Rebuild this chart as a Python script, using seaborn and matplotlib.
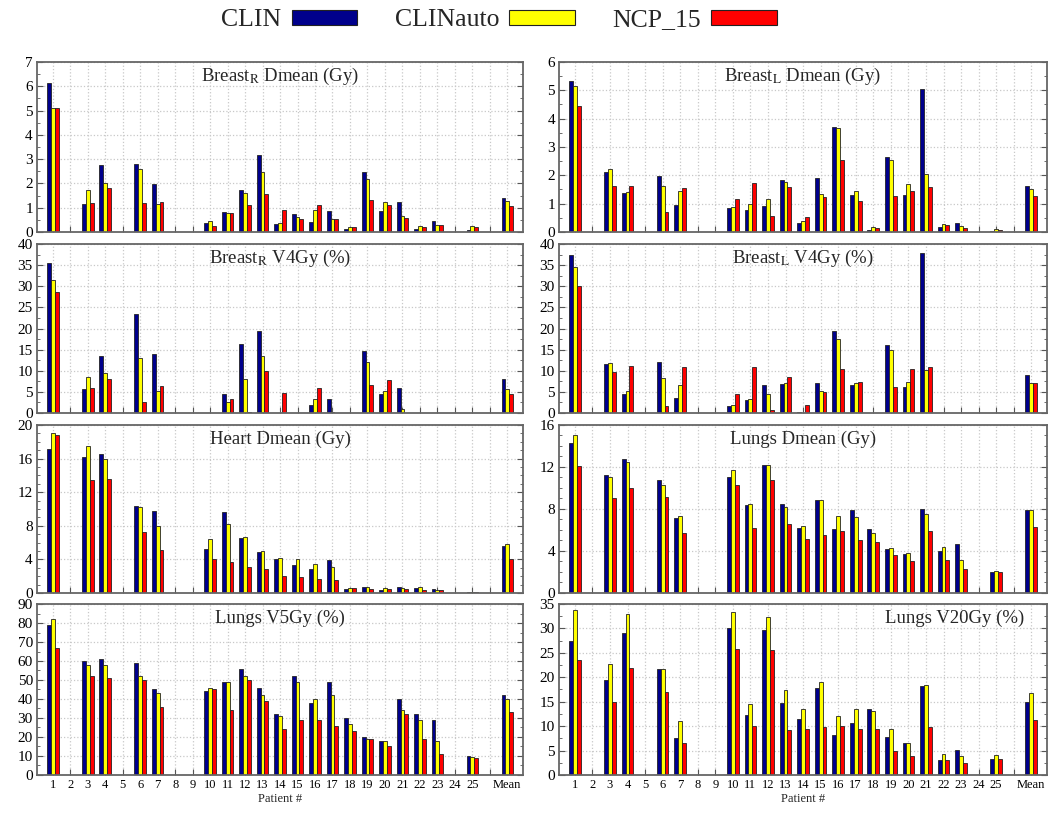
import numpy as np
import pandas as pd
import seaborn as sns
import matplotlib
matplotlib.use('Agg')
import matplotlib.pyplot as plt
from matplotlib.patches import Patch
from matplotlib.ticker import MultipleLocator, AutoMinorLocator

nan = np.nan

# patients 1..25 + Mean
patients = [str(i) for i in range(1, 26)] + ['Mean']
order = patients[:25] + [' '] + ['Mean']
methods = ['CLIN', 'CLINauto', 'NCP_15']
colors = ['#00008c', '#ffff00', '#ff0000']

breastR_dmean_clin = [6.15, nan, 1.14, 2.74, nan, 2.81, 1.97, nan, nan, 0.38, 0.84, 1.73, 3.16, 0.33, 0.75, 0.41, 0.85, 0.11, 2.47, 0.85, 1.23, 0.11, 0.44, nan, 0.08, 1.42]
breastR_dmean_auto = [5.10, nan, 1.73, 2.01, nan, 2.58, 1.16, nan, nan, 0.45, 0.78, 1.62, 2.49, 0.38, 0.60, 0.89, 0.52, 0.22, 2.19, 1.23, 0.64, 0.23, 0.29, nan, 0.23, 1.27]
breastR_dmean_ncp = [5.10, nan, 1.19, 1.81, nan, 1.18, 1.25, nan, nan, 0.26, 0.78, 1.12, 1.58, 0.92, 0.53, 1.11, 0.55, 0.22, 1.32, 1.12, 0.58, 0.22, 0.27, nan, 0.19, 1.07]

breastL_dmean_clin = [5.34, nan, 2.13, 1.37, nan, 1.98, 0.94, nan, nan, 0.85, 0.76, 0.92, 1.83, 0.32, 1.91, 3.70, 1.31, 0.07, 2.66, 1.29, 5.03, 0.18, 0.30, nan, 0.02, 1.63]
breastL_dmean_auto = [5.14, nan, 2.23, 1.42, nan, 1.62, 1.44, nan, nan, 0.89, 0.98, 1.16, 1.75, 0.39, 1.33, 3.66, 1.45, 0.17, 2.55, 1.70, 2.04, 0.28, 0.20, nan, 0.09, 1.53]
breastL_dmean_ncp = [4.43, nan, 1.63, 1.63, nan, 0.70, 1.56, nan, nan, 1.16, 1.72, 0.57, 1.58, 0.52, 1.24, 2.54, 1.09, 0.14, 1.26, 1.46, 1.59, 0.26, 0.15, nan, 0.06, 1.27]

breastR_v4_clin = [35.6, nan, 5.7, 13.5, nan, 23.4, 13.9, nan, nan, nan, 4.4, 16.3, 19.5, 0.1, nan, 1.8, 3.3, nan, 14.6, 4.4, 5.9, nan, nan, nan, nan, 8.1]
breastR_v4_auto = [31.5, nan, 8.5, 9.5, nan, 13.1, 5.2, nan, nan, nan, 2.5, 8.0, 13.5, 0.1, nan, 3.3, 0.15, nan, 12.1, 5.1, 1.0, nan, nan, nan, nan, 5.7]
breastR_v4_ncp = [28.7, nan, 5.9, 8.1, nan, 2.7, 6.3, nan, nan, nan, 3.2, 0.3, 9.9, 4.8, nan, 5.9, 0.1, nan, 6.6, 7.8, nan, nan, nan, nan, nan, 4.5]

breastL_v4_clin = [37.4, nan, 11.5, 4.6, nan, 12.1, 3.6, nan, nan, 1.6, 3.0, 6.6, 6.8, 0.2, 7.0, 19.4, 6.6, nan, 16.2, 6.2, 37.9, nan, nan, nan, nan, 9.1]
breastL_v4_auto = [34.5, nan, 11.8, 5.1, nan, 8.3, 6.7, nan, nan, 1.8, 3.4, 4.6, 7.0, 0.1, 5.3, 17.6, 7.0, nan, 15.0, 7.4, 10.1, nan, nan, nan, nan, 7.2]
breastL_v4_ncp = [30.0, nan, 9.8, 11.1, nan, 1.7, 10.8, nan, nan, 4.6, 10.9, 0.6, 8.5, 1.8, 4.9, 10.5, 7.4, nan, 6.2, 10.3, 11.0, nan, nan, nan, nan, 7.0]

heart_dmean_clin = [17.1, nan, 16.2, 16.6, nan, 10.4, 9.8, nan, nan, 5.2, 9.6, 6.5, 4.9, 4.0, 3.3, 2.8, 3.9, 0.5, 0.75, 0.4, 0.7, 0.6, 0.5, nan, 0.1, 5.6]
heart_dmean_auto = [19.0, nan, 17.5, 16.0, nan, 10.2, 8.0, nan, nan, 6.4, 8.2, 6.7, 5.0, 4.2, 4.1, 3.4, 3.1, 0.6, 0.7, 0.6, 0.6, 0.7, 0.3, nan, 0.15, 5.8]
heart_dmean_ncp = [18.8, nan, 13.5, 13.6, nan, 7.2, 5.1, nan, nan, 4.1, 3.7, 3.1, 2.9, 2.0, 1.9, 1.7, 1.6, 0.55, 0.5, 0.5, 0.5, 0.4, 0.3, nan, 0.1, 4.0]

lungs_dmean_clin = [14.3, nan, 11.2, 12.8, nan, 10.8, 7.1, nan, nan, 11.0, 8.4, 12.15, 8.5, 6.2, 8.85, 6.1, 7.9, 6.05, 4.2, 3.75, 7.95, 4.0, 4.65, nan, 2.0, 7.9]
lungs_dmean_auto = [15.0, nan, 11.0, 12.5, nan, 10.3, 7.3, nan, nan, 11.7, 8.5, 12.15, 8.2, 6.4, 8.85, 7.3, 7.25, 5.75, 4.3, 3.85, 7.5, 4.4, 3.1, nan, 2.1, 7.9]
lungs_dmean_ncp = [12.05, nan, 9.0, 10.0, nan, 9.15, 5.75, nan, nan, 10.3, 6.2, 10.75, 6.6, 5.1, 5.55, 5.9, 5.05, 4.9, 3.6, 3.0, 5.9, 3.1, 2.25, nan, 1.95, 6.3]

lungs_v5_clin = [79, nan, 60, 61, nan, 59, 45, nan, nan, 44, 49, 56, 46, 32, 52, 38, 49, 30, 20, 18, 40, 32, 29, nan, 10, 42]
lungs_v5_auto = [82, nan, 58, 58, nan, 52, 43, nan, nan, 46, 49, 52, 42, 31, 49, 40, 42, 27, 19, 18, 34, 29, 18, nan, 9.5, 40]
lungs_v5_ncp = [67, nan, 52, 51, nan, 50, 36, nan, nan, 45, 34, 50, 39, 24, 29, 29, 26, 23, 19, 15, 32, 19, 11, nan, 9, 33]

lungs_v20_clin = [27.5, nan, 19.5, 29.0, nan, 21.7, 7.5, nan, nan, 30.0, 12.2, 29.6, 14.7, 11.4, 17.8, 8.2, 10.7, 13.5, 7.8, 6.5, 18.2, 3.0, 5.2, nan, 3.2, 15.0]
lungs_v20_auto = [33.7, nan, 22.7, 33.0, nan, 21.7, 11.0, nan, nan, 33.3, 14.6, 32.3, 17.3, 13.6, 19.0, 12.0, 13.5, 13.0, 9.5, 6.5, 18.5, 4.3, 3.9, nan, 4.0, 16.8]
lungs_v20_ncp = [23.5, nan, 15.0, 21.8, nan, 17.0, 6.6, nan, nan, 25.7, 10.0, 25.5, 9.3, 9.5, 9.8, 10.0, 9.4, 9.4, 5.0, 3.8, 9.8, 3.0, 2.4, nan, 3.3, 11.3]

sns.set_theme(style='white')
plt.rcParams['font.family'] = 'serif'
plt.rcParams['font.serif'] = ['Liberation Serif', 'DejaVu Serif']
plt.rcParams['mathtext.fontset'] = 'stix'

fig = plt.figure(figsize=(10.55, 8.18), dpi=100)

# axes boxes (left, bottom, width, height) in figure fraction
col_x = [(0.0351, 0.4607), (0.5299, 0.4626)]
row_y = [(0.7164, 0.2078), (0.4951, 0.2066), (0.2751, 0.2054), (0.0526, 0.2090)]

panels = [
    ('Breast$_{\\mathrm{R}}$ Dmean (Gy)', breastR_dmean_clin, breastR_dmean_auto, breastR_dmean_ncp, 7, 1, 2, 0.5),
    ('Breast$_{\\mathrm{L}}$ Dmean (Gy)', breastL_dmean_clin, breastL_dmean_auto, breastL_dmean_ncp, 6, 1, 2, 0.5),
    ('Breast$_{\\mathrm{R}}$ V4Gy (%)', breastR_v4_clin, breastR_v4_auto, breastR_v4_ncp, 40, 5, 2, 0.5),
    ('Breast$_{\\mathrm{L}}$ V4Gy (%)', breastL_v4_clin, breastL_v4_auto, breastL_v4_ncp, 40, 5, 2, 0.5),
    ('Heart Dmean (Gy)', heart_dmean_clin, heart_dmean_auto, heart_dmean_ncp, 20, 4, 4, 0.5),
    ('Lungs Dmean (Gy)', lungs_dmean_clin, lungs_dmean_auto, lungs_dmean_ncp, 16, 4, 4, 0.5),
    ('Lungs V5Gy (%)', lungs_v5_clin, lungs_v5_auto, lungs_v5_ncp, 90, 10, 2, 0.5),
    ('Lungs V20Gy (%)', lungs_v20_clin, lungs_v20_auto, lungs_v20_ncp, 35, 5, 2, 0.81),
]

for i, (title, clin, auto, ncp, ymax, ystep, nminor, tx) in enumerate(panels):
    r, c = divmod(i, 2)
    ax = fig.add_axes([col_x[c][0], row_y[r][0], col_x[c][1], row_y[r][1]])
    df = pd.DataFrame({
        'patient': patients * 3,
        'method': np.repeat(methods, len(patients)),
        'value': clin + auto + ncp,
    }).dropna()
    sns.barplot(data=df, x='patient', y='value', hue='method', order=order,
                hue_order=methods, palette=colors, saturation=1, width=0.66,
                edgecolor='#222222', linewidth=0.6, errorbar=None,
                legend=False, ax=ax)
    ax.set_xlim(-0.9, 26.9)
    ax.set_ylim(0, ymax)
    ax.yaxis.set_major_locator(MultipleLocator(ystep))
    ax.yaxis.set_minor_locator(AutoMinorLocator(nminor))
    ax.set_axisbelow(True)
    ax.grid(True, which='major', color='#c8c8c8', linestyle=':', linewidth=0.9)
    ax.tick_params(which='both', direction='in', left=True, right=True,
                   bottom=True, top=False, colors='#555555', labelcolor='black')
    ax.tick_params(which='major', length=4, width=0.8)
    ax.tick_params(which='minor', length=2, width=0.6)
    ax.tick_params(axis='y', labelsize=11, pad=3)
    for s in ax.spines.values():
        s.set_color('#666666')
        s.set_linewidth(1.3)
    ax.set_ylabel('')
    if r == 3:
        ax.set_xticks(range(len(order)))
        ax.set_xticklabels(order, fontsize=9)
        ax.tick_params(axis='x', pad=3)
        ax.set_xlabel('Patient #', fontsize=9, labelpad=1)
    else:
        ax.set_xticklabels([])
        ax.set_xlabel('')
    ax.text(tx, 0.915, title, transform=ax.transAxes, ha='center',
            va='center', fontsize=13.5)

handles = [Patch(facecolor=col, edgecolor='#222222', linewidth=0.8) for col in colors]
fig.legend(handles, methods, loc='center', bbox_to_anchor=(0.473, 0.975),
           ncol=3, frameon=False, markerfirst=False, fontsize=18.5,
           handlelength=2.55, handleheight=0.55, handletextpad=0.4,
           columnspacing=1.45)

fig.savefig('out.png', dpi=100)
